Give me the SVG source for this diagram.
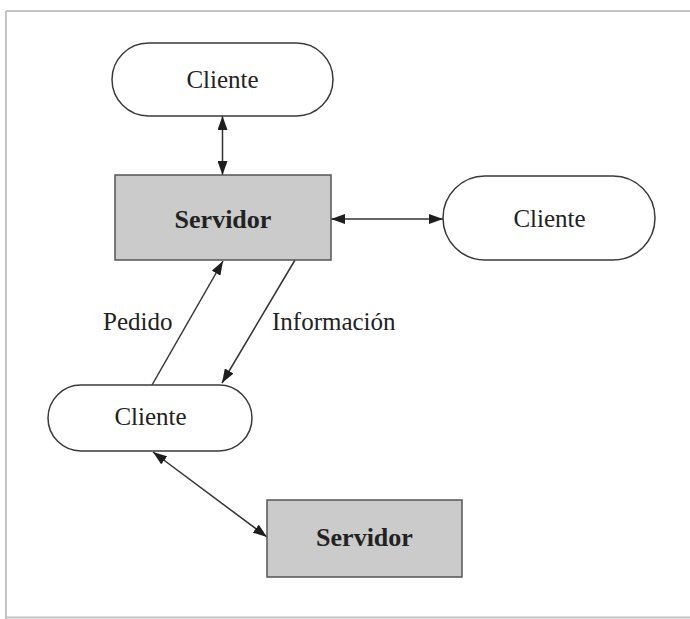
<svg xmlns="http://www.w3.org/2000/svg" width="690" height="619" viewBox="0 0 690 619">
  <style>
    .frame { stroke: #c4c4c4; stroke-width: 2; fill: none; }
    .client { fill: #ffffff; stroke: #3a3a3a; stroke-width: 1.5; }
    .server { fill: #cbcbcb; stroke: #555555; stroke-width: 1.5; }
    .lbl { font-family: "Liberation Serif", "Times New Roman", serif; font-size: 25px; fill: #222222; }
    .bold { font-family: "Liberation Serif", "Times New Roman", serif; font-size: 26px; font-weight: bold; fill: #222222; }
    .conn { stroke: #333333; stroke-width: 1.5; fill: none; }
  </style>
  <defs>
    <marker id="arr" viewBox="0 0 14 10" refX="14" refY="5" markerUnits="userSpaceOnUse" markerWidth="14" markerHeight="10" orient="auto-start-reverse">
      <path d="M0,0 L14,5 L0,10 z" fill="#1e1e1e"/>
    </marker>
  </defs>
  <rect width="690" height="619" fill="#ffffff"/>
  <g id="frame">
    <line class="frame" x1="6" y1="11" x2="690" y2="11"/>
    <line class="frame" x1="6" y1="11" x2="6" y2="619"/>
    <line class="frame" x1="6" y1="617.5" x2="690" y2="617.5" stroke-width="1" stroke="#e2e2e2"/>
  </g>
  <g id="connectors">
    <line class="conn" x1="222.5" y1="116" x2="222.5" y2="175" marker-start="url(#arr)" marker-end="url(#arr)"/>
    <line class="conn" x1="331" y1="219" x2="443" y2="219" marker-start="url(#arr)" marker-end="url(#arr)"/>
    <line class="conn" x1="152" y1="385" x2="223" y2="261" marker-end="url(#arr)"/>
    <line class="conn" x1="295" y1="260" x2="222" y2="383" marker-end="url(#arr)"/>
    <line class="conn" x1="153" y1="452" x2="267" y2="537" marker-start="url(#arr)" marker-end="url(#arr)"/>
    <text class="lbl" x="103" y="330">Pedido</text>
    <text class="lbl" x="272" y="330">Información</text>
  </g>
  <g id="cliente-top">
    <rect class="client" x="112" y="43" width="221" height="73" rx="36.5" ry="36.5"/>
    <text class="lbl" x="222.5" y="88" text-anchor="middle">Cliente</text>
  </g>
  <g id="servidor-top">
    <rect class="server" x="115" y="175" width="216" height="85"/>
    <text class="bold" x="223" y="228" text-anchor="middle">Servidor</text>
  </g>
  <g id="cliente-right">
    <rect class="client" x="443" y="176" width="212" height="84" rx="42" ry="42"/>
    <text class="lbl" x="549.5" y="227" text-anchor="middle">Cliente</text>
  </g>
  <g id="cliente-bottom">
    <rect class="client" x="48" y="385" width="204" height="66" rx="33" ry="33"/>
    <text class="lbl" x="150.5" y="425" text-anchor="middle">Cliente</text>
  </g>
  <g id="servidor-bottom">
    <rect class="server" x="267" y="500" width="195" height="77"/>
    <text class="bold" x="364.5" y="546" text-anchor="middle">Servidor</text>
  </g>
</svg>
